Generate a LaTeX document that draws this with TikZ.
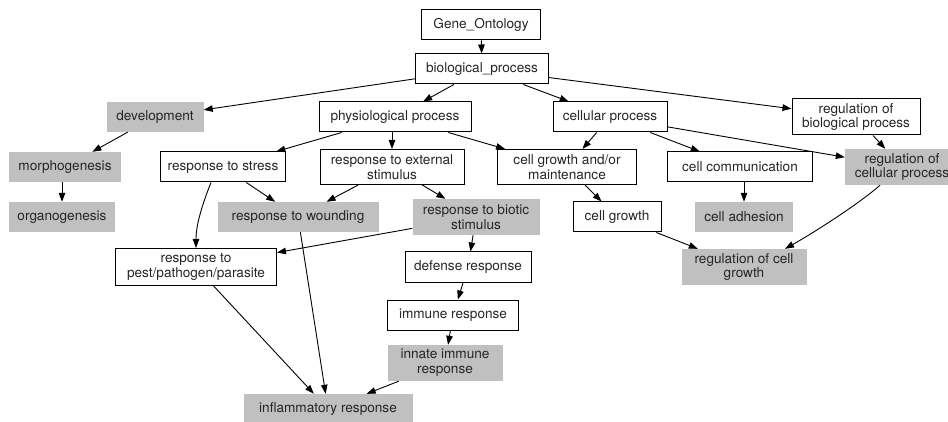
\documentclass[tikz,border=0pt]{standalone}
\usepackage{fontspec}
\setmainfont{TeX Gyre Heros}
\usetikzlibrary{arrows.meta}
\definecolor{boxgray}{RGB}{192,192,192}
\tikzset{
  base/.style={rectangle, inner sep=0pt, align=center, font=\fontsize{13.6}{14.7}\selectfont, text=black!85},
  wbox/.style={base, draw=black, line width=1pt, fill=white},
  gbox/.style={base, fill=boxgray},
  edge/.style={line width=0.9pt, -{Triangle[length=9pt,width=6.5pt]}},
}
\begin{document}
\begin{tikzpicture}[x=1pt,y=-1pt]
\useasboundingbox (0,0) rectangle (948,422);
% nodes
\node[wbox, minimum width=119pt, minimum height=30pt] (go) at (481,25) {Gene\_Ontology};
\node[wbox, minimum width=133pt, minimum height=30pt] (bp) at (482,69) {biological\_process};
\node[gbox, minimum width=97pt, minimum height=30pt] (dev) at (155,117) {development};
\node[wbox, minimum width=152pt, minimum height=30pt] (phys) at (395,117) {physiological process};
\node[wbox, minimum width=114pt, minimum height=30pt] (cell) at (610,117) {cellular process};
\node[wbox, minimum width=128pt, minimum height=36pt] (regbio) at (856,117) {regulation of\\biological process};
\node[gbox, minimum width=112pt, minimum height=30pt] (morph) at (65,167) {morphogenesis};
\node[wbox, minimum width=125pt, minimum height=30pt] (stress) at (223,167) {response to stress};
\node[wbox, minimum width=144pt, minimum height=35pt] (ext) at (392,167) {response to external\\stimulus};
\node[wbox, minimum width=139pt, minimum height=35pt] (cgm) at (567,167) {cell growth and/or\\maintenance};
\node[wbox, minimum width=145pt, minimum height=30pt] (comm) at (740,167) {cell communication};
\node[gbox, minimum width=114pt, minimum height=36pt] (regcell) at (902,167) {regulation of\\cellular process};
\node[gbox, minimum width=106pt, minimum height=30pt] (organ) at (62,217) {organogenesis};
\node[gbox, minimum width=161pt, minimum height=30pt] (wound) at (298,217) {response to wounding};
\node[gbox, minimum width=127pt, minimum height=36pt] (biotic) at (476,217) {response to biotic\\stimulus};
\node[wbox, minimum width=88pt, minimum height=30pt] (cgrowth) at (617,217) {cell growth};
\node[gbox, minimum width=98pt, minimum height=30pt] (adhes) at (744,217) {cell adhesion};
\node[wbox, minimum width=161pt, minimum height=37pt] (pest) at (196,267) {response to\\pest/pathogen/parasite};
\node[wbox, minimum width=126pt, minimum height=30pt] (defense) at (468,267) {defense response};
\node[gbox, minimum width=125pt, minimum height=36pt] (regcg) at (744,267) {regulation of cell\\growth};
\node[wbox, minimum width=131pt, minimum height=30pt] (immune) at (453,315) {immune response};
\node[gbox, minimum width=115pt, minimum height=36pt] (innate) at (445,363) {innate immune\\response};
\node[gbox, minimum width=169pt, minimum height=30pt] (inflam) at (328,409) {inflammatory response};
% edges
\draw[edge] (go) -- (bp);
\draw[edge] (bp) -- (dev);
\draw[edge] (bp) -- (phys);
\draw[edge] (bp) -- (cell);
\draw[edge] (bp) -- (regbio);
\draw[edge] (dev) -- (morph);
\draw[edge] (morph.south -| organ.north) -- (organ.north);
\draw[edge] (phys) -- (stress);
\draw[edge] (phys.south -| ext.north) -- (ext.north);
\draw[edge] (phys) -- (cgm);
\draw[edge] (cell) -- (cgm);
\draw[edge] (cell) -- (comm);
\draw[edge] (cell) -- (regcell);
\draw[edge] (regbio) -- (regcell);
\draw[edge] (stress) -- (wound);
\draw[edge] ([xshift=-12pt]stress.south) .. controls (202,205) and (196,225) .. (pest.north);
\draw[edge] (ext) -- (wound);
\draw[edge] (ext) -- (biotic);
\draw[edge] (cgm) -- (cgrowth);
\draw[edge] (comm.south -| adhes.north) -- (adhes.north);
\draw[edge] (biotic) -- (pest);
\draw[edge] (biotic) -- (defense);
\draw[edge] (defense) -- (immune);
\draw[edge] (immune) -- (innate);
\draw[edge] (innate) -- (inflam);
\draw[edge] (wound) -- (inflam);
\draw[edge] (pest) -- (inflam);
\draw[edge] (cgrowth) -- (regcg);
\draw[edge] ([xshift=-22pt]regcell.south) .. controls (860,203) and (815,232) .. ([xshift=41pt]regcg.north);
\end{tikzpicture}
\end{document}
